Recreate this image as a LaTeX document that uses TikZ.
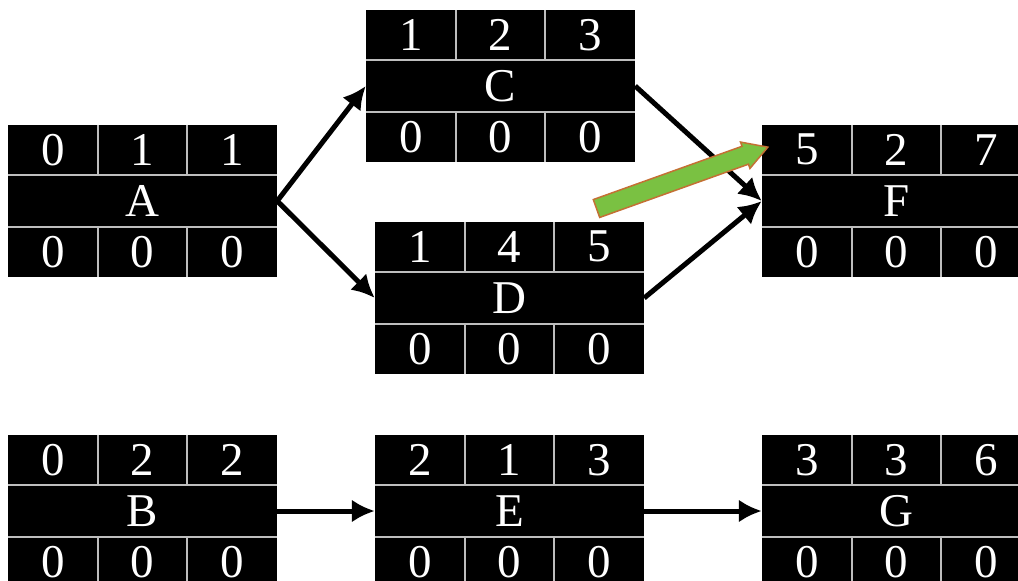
\documentclass[tikz,border=0pt]{standalone}
\usepackage{fontspec}
\setmainfont{Liberation Serif}
\usetikzlibrary{
    arrows.meta,
    calc,
    positioning
}

\definecolor{cellgrey}{RGB}{190,190,190}
\definecolor{hintgreen}{RGB}{122,193,66}
\definecolor{hintedge}{RGB}{196,112,52}

\newcommand\cellfont{\fontsize{47}{47}\selectfont}

\tikzset{
    actbox/.style={fill=black, text=white,
        minimum width=269pt, minimum height=152pt, inner sep=0pt, font=\cellfont},
    cellnum/.style={text=white, inner sep=0pt, font=\cellfont},
    divider/.style={draw=cellgrey, line width=2pt},
    link/.style={draw=black, line width=5pt, -{Latex[length=23pt,width=23pt]}},
    hint/.style={fill=hintgreen, draw=hintedge, line width=1.5pt, line join=miter}
}

% one activity box: name, position, label, top row, bottom row
\newcommand\actnode[9]{%
    \node[actbox] (#1) at (#2) {#3};
    \draw[divider] ([yshift=26pt]#1.west) -- ([yshift=26pt]#1.east)
                   ([yshift=-26pt]#1.west) -- ([yshift=-26pt]#1.east);
    \foreach \dx in {-44.8,44.8}{
        \draw[divider] ([xshift=\dx pt]#1.north) -- ([xshift=\dx pt, yshift=-50pt]#1.north)
                       ([xshift=\dx pt]#1.south) -- ([xshift=\dx pt, yshift=50pt]#1.south);
    }
    \node[cellnum] (#1-es) at ([xshift=-89.7pt, yshift=-25pt]#1.north) {#4};
    \node[cellnum] (#1-du) at ([yshift=-25pt]#1.north) {#5};
    \node[cellnum] (#1-ef) at ([xshift=89.7pt, yshift=-25pt]#1.north) {#6};
    \node[cellnum] (#1-ls) at ([xshift=-89.7pt, yshift=25pt]#1.south) {#7};
    \node[cellnum] (#1-fl) at ([yshift=25pt]#1.south) {#8};
    \node[cellnum] (#1-lf) at ([xshift=89.7pt, yshift=25pt]#1.south) {#9};
}

\begin{document}
\begin{tikzpicture}[x=1pt, y=-1pt]
    \useasboundingbox (0,0) rectangle (1018,581);

    \actnode{A}{142.5,201}{A}{0}{1}{1}{0}{0}{0}
    \actnode{C}{500.5,86}{C}{1}{2}{3}{0}{0}{0}
    \actnode{D}{509.5,298}{D}{1}{4}{5}{0}{0}{0}
    \actnode{F}{896.5,201}{F}{5}{2}{7}{0}{0}{0}
    \actnode{B}{142.5,511}{B}{0}{2}{2}{0}{0}{0}
    \actnode{E}{509.5,511}{E}{2}{1}{3}{0}{0}{0}
    \actnode{G}{896.5,511}{G}{3}{3}{6}{0}{0}{0}

    \draw[link] (A.east) -- (C.west);
    \draw[link] (A.east) -- (D.west);
    \draw[link] (C.east) -- (F.west);
    \draw[link] (D.east) -- (F.west);
    \draw[link] (B.east) -- (E.west);
    \draw[link] (E.east) -- (G.west);

    % highlight arrow
    \begin{scope}[shift={(596.5,208.5)}, rotate=19.7]
        \draw[hint] (0,9.5) -- (158,9.5) -- (158,14) -- (182,0) -- (158,-14) -- (158,-9.5) -- (0,-9.5) -- cycle;
    \end{scope}
\end{tikzpicture}
\end{document}
